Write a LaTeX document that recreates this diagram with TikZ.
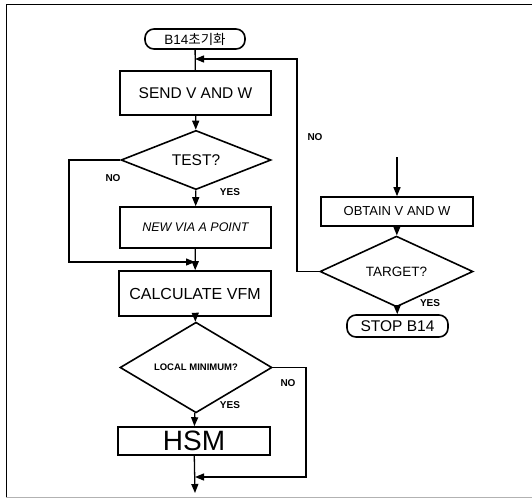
\documentclass[tikz,border=0pt]{standalone}
\usepackage{fontspec}
\setmainfont{Liberation Sans}
\newfontfamily\krfont{Noto Sans CJK KR}
\usetikzlibrary{shapes.geometric,arrows.meta}
\begin{document}
\begin{tikzpicture}[x=1pt,y=-1pt,
 box/.style={draw,line width=1.6pt,inner sep=0pt},
 term/.style={draw,line width=1.6pt,rounded corners=9pt,inner sep=0pt},
 dia/.style={draw,diamond,line width=1.6pt,inner sep=0pt},
 conn/.style={line width=1.3pt},
 arr/.style={conn,-{Triangle[length=9pt,width=7pt]}},
 lab/.style={font=\fontsize{10}{11}\selectfont\bfseries,inner sep=0pt}]
\useasboundingbox (0,0) rectangle (532,499);
% frame
\draw[line width=1pt] (6,497) -- (6,4) -- (532,4);
\draw[line width=0.8pt,black!30] (6,497) -- (532,497);
% nodes
\node[term,minimum width=100pt,minimum height=20pt,font=\fontsize{13.5}{14}\selectfont] (start) at (195,39) {B14{\krfont 초기화}};
\node[box,minimum width=151pt,minimum height=44pt,font=\fontsize{15.5}{16}\selectfont] (send) at (195.5,93) {SEND V AND W};
\node[dia,minimum width=150pt,minimum height=46pt,font=\fontsize{15.5}{16}\selectfont] (test) at (196,160) {TEST?};
\node[box,minimum width=151pt,minimum height=41pt,font=\fontsize{12.5}{13}\selectfont\itshape] (newvia) at (195.5,227.5) {NEW VIA A POINT};
\node[box,minimum width=152pt,minimum height=45pt,font=\fontsize{16}{17}\selectfont] (calc) at (195,293.5) {CALCULATE VFM};
\node[dia,minimum width=152pt,minimum height=51pt,font=\fontsize{9.5}{10}\selectfont\bfseries] (local) at (196,367.5) {LOCAL MINIMUM?};
\node[box,minimum width=152pt,minimum height=28pt,font=\fontsize{28}{28}\selectfont] (hsm) at (194,441) {HSM};
\node[box,minimum width=152pt,minimum height=29pt,font=\fontsize{13}{14}\selectfont] (obtain) at (397,211.5) {OBTAIN V AND W};
\node[dia,minimum width=153pt,minimum height=43pt,font=\fontsize{13.5}{14}\selectfont] (target) at (396.5,271.5) {TARGET?};
\node[term,minimum width=101pt,minimum height=22pt,font=\fontsize{15.5}{16}\selectfont] (stop) at (397.5,326) {STOP B14};
% free coordinates
\coordinate (jtop) at (195,59);
\coordinate (jmid) at (195,262);
\coordinate (jbot) at (195,477);
\coordinate (endb) at (195,493);
\coordinate (inr) at (397,157);
% connectors
\draw[conn] (start) -- (send);
\draw[arr] (send) -- (test);
\draw[arr] (test) -- (newvia);
\draw[arr] (newvia) -- (calc);
\draw[arr] (calc) -- (local);
\draw[arr] (local) -- (hsm);
\draw[arr] (hsm) -- (endb);
\draw[arr] (inr) -- (obtain);
\draw[arr] (obtain) -- (target);
\draw[arr] (target) -- (stop);
\draw[arr] (test.west) -- (69,160) -- (69,262) -- (jmid);
\draw[arr] (local.east) -- (306,367.5) -- (306,477) -- (jbot);
\draw[arr] (target.west) -- (297,271.5) -- (297,59) -- (jtop);
% labels
\node[lab] (l1) at (113,178) {NO};
\node[lab] (l2) at (230,192) {YES};
\node[lab] (l3) at (315,137) {NO};
\node[lab] (l4) at (430,303) {YES};
\node[lab] (l5) at (288,383) {NO};
\node[lab] (l6) at (230,405) {YES};
\end{tikzpicture}
\end{document}
